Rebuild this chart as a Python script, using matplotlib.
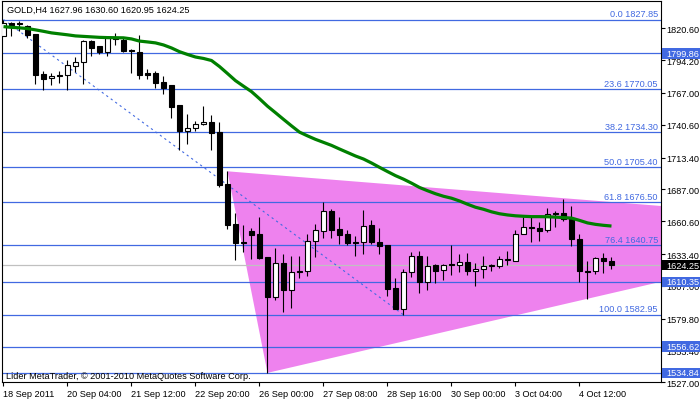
import matplotlib
matplotlib.use('Agg')
import matplotlib.pyplot as plt
from matplotlib.patches import Rectangle, Polygon
import matplotlib.transforms as mtransforms

plt.rcParams['font.family'] = ['Liberation Sans', 'DejaVu Sans']

title = "GOLD,H4 1627.96 1630.60 1620.95 1624.25"
watermark = "Lider MetaTrader, \u00a9 2001-2010 MetaQuotes Software Corp."

opens = [1814.2, 1824.8, 1824.8, 1822.8, 1815.6, 1783.1, 1779.5, 1782.2, 1781.6, 1789.2,
         1792.8, 1810.3, 1805.6, 1801.2, 1812.4, 1810.8, 1802.0, 1801.2, 1783.9, 1783.9,
         1776.1, 1773.3, 1756.6, 1735.8, 1737.8, 1741.4, 1742.8, 1734.5, 1691.4, 1658.0,
         1643.6, 1652.4, 1649.7, 1630.7, 1597.7, 1626.1, 1603.2, 1619.6, 1619.1, 1644.1,
         1652.4, 1669.1, 1653.8, 1649.7, 1643.2, 1643.6, 1657.2, 1643.6, 1640.7, 1605.2,
         1587.9, 1618.2, 1632.1, 1610.2, 1624.1, 1619.9, 1625.5, 1624.6, 1626.9, 1619.1,
         1621.1, 1623.2, 1623.2, 1628.8, 1628.0, 1650.2, 1656.1, 1655.2, 1653.0, 1667.8,
         1667.8, 1663.6, 1646.1, 1619.6, 1619.1, 1630.2, 1627.96]
highs = [1827.85, 1825.6, 1826.7, 1823.4, 1815.8, 1785.3, 1783.7, 1785.3, 1794.2, 1796.4,
         1810.6, 1810.8, 1805.8, 1814.2, 1816.4, 1812.3, 1803.1, 1815.0, 1787.2, 1785.3,
         1780.8, 1773.6, 1757.2, 1749.7, 1744.1, 1755.8, 1748.9, 1743.3, 1702.0, 1667.8,
         1657.2, 1654.7, 1664.1, 1631.3, 1638.0, 1633.0, 1631.6, 1631.6, 1649.7, 1658.0,
         1676.9, 1670.5, 1664.1, 1653.0, 1648.2, 1669.7, 1661.3, 1655.2, 1641.1, 1613.6,
         1621.3, 1635.2, 1635.7, 1631.6, 1625.5, 1625.1, 1640.7, 1633.6, 1634.4, 1626.1,
         1632.1, 1625.3, 1632.1, 1636.3, 1653.0, 1664.1, 1664.1, 1659.9, 1671.9, 1669.1,
         1678.8, 1673.3, 1649.7, 1628.0, 1630.6, 1634.4, 1630.60]
lows = [1813.9, 1814.2, 1818.1, 1812.3, 1774.7, 1769.1, 1773.3, 1775.6, 1769.1, 1784.5,
        1774.7, 1797.5, 1799.7, 1797.5, 1806.7, 1800.8, 1783.9, 1778.3, 1778.9, 1771.4,
        1765.8, 1746.1, 1720.0, 1724.7, 1735.8, 1740.8, 1720.0, 1688.6, 1653.8, 1628.2,
        1634.9, 1629.4, 1629.3, 1534.84, 1594.9, 1584.9, 1589.0, 1613.6, 1614.9, 1630.7,
        1646.9, 1646.9, 1641.9, 1640.7, 1631.6, 1633.0, 1641.9, 1633.0, 1598.2, 1587.5,
        1582.95, 1614.1, 1601.0, 1603.8, 1609.4, 1612.1, 1616.3, 1618.6, 1616.3, 1606.6,
        1613.6, 1619.1, 1621.9, 1624.1, 1627.4, 1649.7, 1643.6, 1644.1, 1651.9, 1655.7,
        1660.8, 1639.9, 1610.2, 1596.0, 1616.9, 1617.7, 1620.95]
closes = [1824.8, 1823.1, 1824.5, 1815.0, 1782.2, 1778.9, 1781.4, 1780.8, 1789.8, 1792.8,
          1810.3, 1804.2, 1800.8, 1812.3, 1811.8, 1801.7, 1801.7, 1782.2, 1782.2, 1775.6,
          1771.4, 1755.3, 1735.8, 1737.8, 1741.4, 1743.3, 1733.6, 1690.8, 1657.2, 1642.7,
          1642.7, 1649.1, 1629.9, 1597.4, 1626.1, 1603.2, 1618.6, 1618.2, 1644.1, 1653.0,
          1669.1, 1653.2, 1649.1, 1642.2, 1642.2, 1656.6, 1643.2, 1639.9, 1604.6, 1587.9,
          1618.6, 1632.1, 1610.2, 1623.8, 1619.6, 1624.6, 1624.1, 1626.9, 1619.1, 1621.3,
          1623.8, 1624.1, 1629.4, 1629.6, 1650.2, 1656.1, 1655.2, 1652.4, 1666.3, 1666.3,
          1662.2, 1646.1, 1619.1, 1618.6, 1630.2, 1627.4, 1624.25]
ma = [1822.0, 1821.4, 1821.0, 1820.4, 1819.3, 1818.1, 1816.8, 1816.0, 1815.2, 1814.3,
      1813.9, 1813.5, 1813.1, 1812.9, 1812.8, 1812.7, 1811.8, 1810.0, 1809.3, 1808.5,
      1806.8, 1804.3, 1801.2, 1798.9, 1796.8, 1795.6, 1793.9, 1788.9, 1783.1, 1777.2,
      1772.6, 1768.1, 1762.2, 1756.0, 1750.6, 1745.1, 1739.7, 1734.5, 1731.4, 1728.5,
      1726.0, 1723.5, 1720.5, 1717.6, 1714.7, 1712.2, 1708.9, 1705.3, 1701.8, 1698.4,
      1695.5, 1692.2, 1688.6, 1685.9, 1683.4, 1681.3, 1679.7, 1677.4, 1674.7, 1672.2,
      1670.5, 1668.4, 1666.8, 1665.8, 1665.1, 1664.7, 1664.4, 1664.4, 1664.3, 1664.0,
      1663.6, 1663.2, 1661.3, 1659.2, 1658.0, 1657.2, 1656.6]

time_tick_bars = [0, 8, 16, 24, 32, 40, 48, 56, 64, 72]
time_labels = ["18 Sep 2011", "20 Sep 04:00", "21 Sep 12:00", "22 Sep 20:00", "26 Sep 00:00",
               "27 Sep 08:00", "28 Sep 16:00", "30 Sep 00:00", "3 Oct 04:00", "4 Oct 12:00"]
price_ticks = [1820.60, 1794.20, 1767.00, 1740.60, 1713.40, 1687.00, 1660.60, 1633.40,
               1607.00, 1579.80, 1553.40, 1527.00]

fib_names = ["0.0", "23.6", "38.2", "50.0", "61.8", "76.4", "100.0"]
fib_prices = [1827.85, 1770.05, 1734.30, 1705.40, 1676.50, 1640.75, 1582.95]
fib_anchor_bars = [0, 50]
fib_anchor_prices = [1827.85, 1582.95]

hline_prices = [1799.86, 1610.35, 1556.62, 1534.84]
bid_price = 1624.25

triangle_bars = [28, 33, 112.6]
triangle_prices = [1702.0, 1534.84, 1657.1]

BLUE = '#4169E1'
FS = 6.6

W, H = 700, 402
fig = plt.figure(figsize=(W / 100, H / 100), dpi=100)
L, R, T, B = 2, 661, 2.3, 383.3
ax = fig.add_axes([L / W, 1 - B / H, (R - L) / W, (B - T) / H])
ax.set_xlim(-0.1875, 82.19)
ax.set_ylim(1527.0, 1843.0)

for s in ax.spines.values():
    s.set_color('black')
    s.set_linewidth(0.8)

# triangle
ax.add_patch(Polygon(list(zip(triangle_bars, triangle_prices)), closed=True,
                     fc='#EE82EE', ec='none', zorder=1))

# horizontal levels
for p in fib_prices + hline_prices:
    ax.axhline(p, color=BLUE, lw=0.9, zorder=2)
ax.axhline(bid_price, color='#C0C0C0', lw=0.9, zorder=2)

# fib trend line
ax.plot(fib_anchor_bars, fib_anchor_prices, color=BLUE, lw=0.8,
        linestyle=(0, (2, 3)), zorder=2.5)

blend = mtransforms.blended_transform_factory(ax.transAxes, ax.transData)
for name, p in zip(fib_names, fib_prices):
    ax.annotate(f"{name} {p:.2f}", xy=(1, p), xycoords=blend, xytext=(-2.2, 1.0),
                textcoords='offset points', ha='right', va='bottom',
                fontsize=FS, color=BLUE, zorder=3)

# candles
bw = 0.56
for i, (o, h, l, c) in enumerate(zip(opens, highs, lows, closes)):
    ax.plot([i, i], [l, h], color='black', lw=0.8, zorder=4, solid_capstyle='butt')
    lo, hi = min(o, c), max(o, c)
    ht = max(hi - lo, 0.6)
    fc = 'white' if c > o else 'black'
    ax.add_patch(Rectangle((i - bw / 2, lo), bw, ht, fc=fc, ec='black', lw=0.8, zorder=5))

# moving average
ax.plot(range(len(ma)), ma, color='#008000', lw=2.3, zorder=6, solid_capstyle='butt')

# axes ticks
ax.yaxis.tick_right()
ax.set_yticks(price_ticks)
ax.set_yticklabels([f"{p:.2f}" for p in price_ticks])
ax.tick_params(axis='y', direction='out', length=3, width=0.8, pad=1.2, labelsize=FS,
               colors='black')
ax.set_xticks(time_tick_bars)
ax.set_xticklabels(time_labels)
ax.tick_params(axis='x', direction='out', length=3, width=0.8, pad=2.0, labelsize=FS,
               colors='black')
for lbl in ax.get_xticklabels():
    lbl.set_ha('left')

# text
ax.text(5 / (R - L), 1 - 8.5 / (B - T), title, transform=ax.transAxes, fontsize=FS,
        ha='left', va='center', color='black', zorder=7)
ax.text(4 / (R - L), 6.5 / (B - T), watermark, transform=ax.transAxes, fontsize=FS,
        ha='left', va='center', color='black', zorder=7)

# price boxes on the right axis
fblend = mtransforms.blended_transform_factory(fig.transFigure, ax.transData)
box_h = 10.5 * (1843.0 - 1527.0) / (B - T)
for p, col in [(hl, BLUE) for hl in hline_prices] + [(bid_price, 'black')]:
    ax.add_patch(Rectangle((662 / W, p - box_h / 2), 1 - 662 / W, box_h, transform=fblend,
                           fc=col, ec='none', clip_on=False, zorder=10))
    ax.text(666 / W, p, f"{p:.2f}", transform=fblend, fontsize=FS, color='white',
            ha='left', va='center', clip_on=False, zorder=11)

fig.savefig('out.png', dpi=100)
